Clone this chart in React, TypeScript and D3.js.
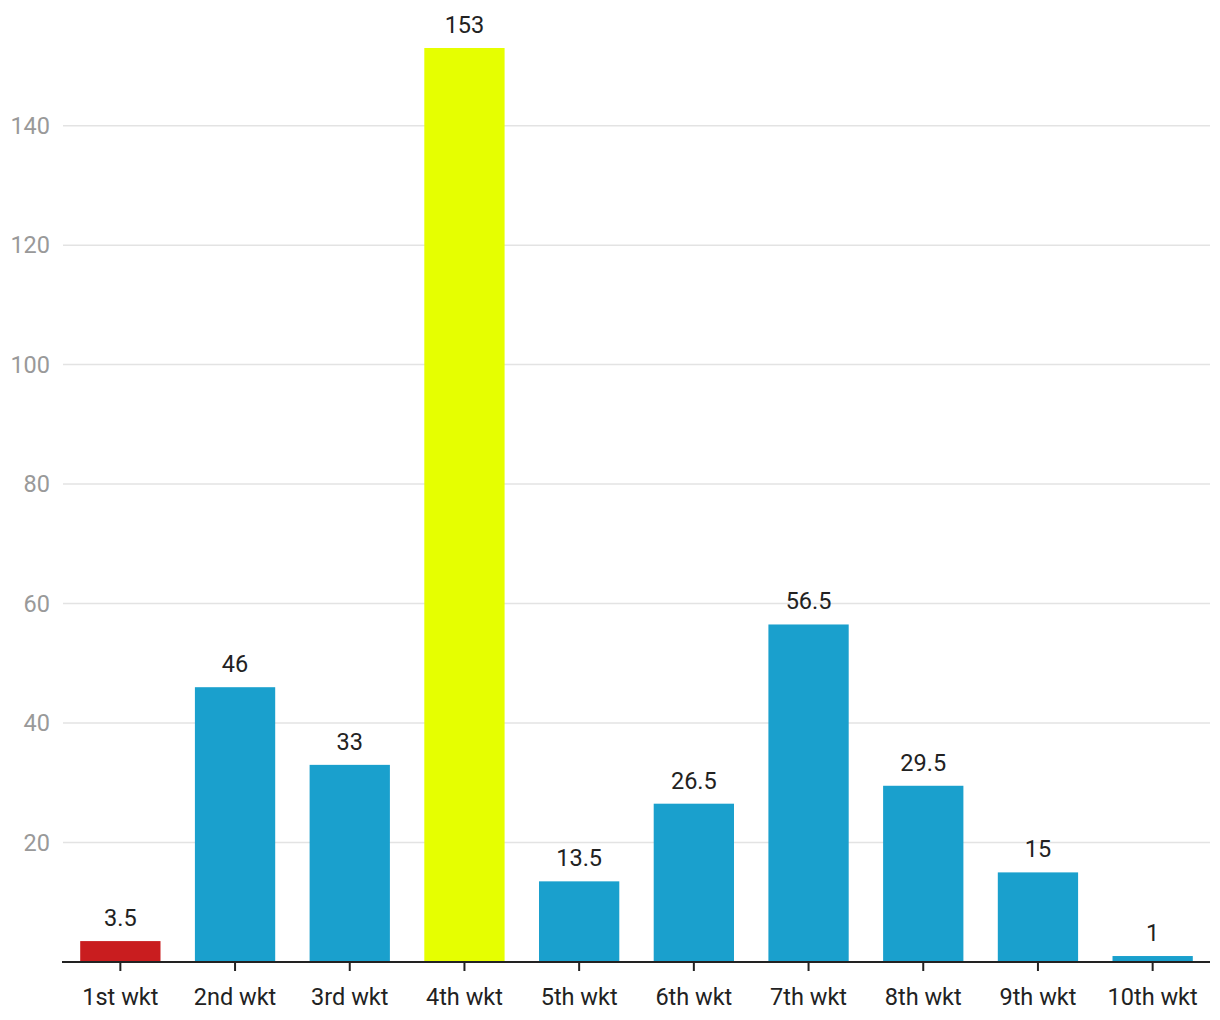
import React from "react";
import * as d3 from "d3";

const categories = ["1st wkt", "2nd wkt", "3rd wkt", "4th wkt", "5th wkt", "6th wkt", "7th wkt", "8th wkt", "9th wkt", "10th wkt"];
const values = [3.5, 46, 33, 153, 13.5, 26.5, 56.5, 29.5, 15, 1];
const barColors = ["#c91d1f", "#1aa0cd", "#1aa0cd", "#e6ff00", "#1aa0cd", "#1aa0cd", "#1aa0cd", "#1aa0cd", "#1aa0cd", "#1aa0cd"];
const yTicks = [20, 40, 60, 80, 100, 120, 140];

export default function App() {
  const W = 1220, H = 1020;
  const left = 63, right = 1210, top = 48, bottom = 962;
  const x = d3.scaleBand<string>().domain(categories).range([left, right]).paddingInner(0.3).paddingOuter(0.15);
  const y = d3.scaleLinear().domain([0, 153]).range([bottom, top]);
  const font = "Roboto, 'Noto Sans', sans-serif";
  const fs = 23.5;
  return (
    <svg width={W} height={H} style={{ position: "absolute", left: 0, top: 0, background: "#fff" }}>
      {yTicks.map((t) => (
        <g key={t}>
          <line x1={left} x2={right} y1={y(t)} y2={y(t)} stroke="#e3e3e3" strokeWidth={1.5} />
          <text x={50} y={y(t)} dy="0.35em" textAnchor="end" fontFamily={font} fontSize={fs} fill="#999">{t}</text>
        </g>
      ))}
      {categories.map((c, i) => (
        <g key={c}>
          <rect x={x(c)} y={y(values[i])} width={x.bandwidth()} height={bottom - y(values[i])} fill={barColors[i]} />
          <text x={x(c)! + x.bandwidth() / 2} y={y(values[i]) - 15} textAnchor="middle" fontFamily={font} fontSize={fs} fill="#222">{values[i]}</text>
          <line x1={x(c)! + x.bandwidth() / 2} x2={x(c)! + x.bandwidth() / 2} y1={bottom} y2={bottom + 9} stroke="#222" strokeWidth={2} />
          <text x={x(c)! + x.bandwidth() / 2} y={1005} textAnchor="middle" fontFamily={font} fontSize={fs} fill="#222">{c}</text>
        </g>
      ))}
      <line x1={left - 1} x2={right} y1={bottom} y2={bottom} stroke="#222" strokeWidth={2} />
    </svg>
  );
}
